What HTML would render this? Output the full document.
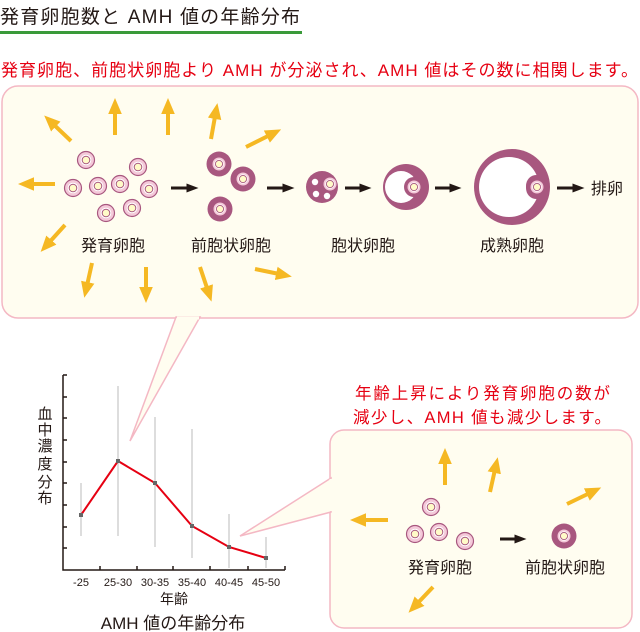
<!DOCTYPE html>
<html><head><meta charset="utf-8"><style>
body{margin:0;background:#fff}
svg{display:block}
text{font-family:"Liberation Sans","Noto Sans CJK JP",sans-serif}
</style></head><body>
<svg width="640" height="632" viewBox="0 0 640 632" xmlns="http://www.w3.org/2000/svg">
<defs>
<marker id="ya" markerWidth="4" markerHeight="4" refX="2" refY="2" orient="auto" markerUnits="strokeWidth"><path d="M0,0.3 L4,2 L0,3.7 Z" fill="#f5b823"/></marker>
<marker id="ba" markerWidth="4" markerHeight="4" refX="1.5" refY="2" orient="auto" markerUnits="strokeWidth"><path d="M0,0.5 L4,2 L0,3.5 Z" fill="#231815"/></marker>
<g id="sf"><circle r="8.5" fill="#f4c9d9" stroke="#a8577f" stroke-width="1.2"/><circle r="5.3" fill="#fff"/><circle r="3.8" fill="#fffbc8" stroke="#a8577f" stroke-width="1"/></g>
<g id="ff"><circle r="6.5" fill="#f4c9d9"/><circle r="4.8" fill="#fff"/><circle r="3.6" fill="#fffbc8" stroke="#a8577f" stroke-width="0.9"/></g>
<g id="pf"><circle r="12.5" fill="#a8577f"/><use href="#ff"/></g>
</defs>
<text x="0" y="23" font-size="19" textLength="300" fill="#231815">発育卵胞数と AMH 値の年齢分布</text>
<rect x="0" y="31" width="302" height="3" fill="#3a9a3a"/>
<text x="1" y="76" font-size="17" textLength="637" fill="#e60012">発育卵胞、前胞状卵胞より AMH が分泌され、AMH 値はその数に相関します。</text>

<rect x="2" y="86" width="636" height="232" rx="16" fill="#fffdf0" stroke="#f4b8c4" stroke-width="1.5"/>
<polygon points="176,317 130,441 200,317" fill="#fffdf0" stroke="#f4b8c4" stroke-width="1.5"/>
<line x1="177" y1="318" x2="199" y2="318" stroke="#fffdf0" stroke-width="3"/>

<g stroke="#f5b823" stroke-width="4" marker-end="url(#ya)" fill="none">
<line x1="71" y1="141" x2="50" y2="121"/>
<line x1="115" y1="135" x2="115" y2="106"/>
<line x1="168" y1="135" x2="168" y2="106"/>
<line x1="211" y1="139" x2="216" y2="111"/>
<line x1="246" y1="147" x2="274" y2="133"/>
<line x1="55" y1="184" x2="26" y2="184"/>
<line x1="65" y1="225" x2="46" y2="246"/>
<line x1="92" y1="263" x2="86" y2="290"/>
<line x1="146" y1="267" x2="146" y2="295"/>
<line x1="200" y1="267" x2="209" y2="294"/>
<line x1="255" y1="269" x2="284" y2="275"/>
</g>
<use href="#sf" x="86" y="160"/><use href="#sf" x="138" y="167"/><use href="#sf" x="73" y="188"/><use href="#sf" x="98" y="186"/><use href="#sf" x="120" y="184"/><use href="#sf" x="149" y="189"/><use href="#sf" x="106" y="213"/><use href="#sf" x="132" y="208"/>
<use href="#pf" x="219" y="164"/><use href="#pf" x="243" y="179"/><use href="#pf" x="220" y="209"/>
<g stroke="#231815" stroke-width="3" marker-end="url(#ba)">
<line x1="171" y1="188" x2="191" y2="188"/>
<line x1="267" y1="188" x2="287" y2="188"/>
<line x1="345" y1="188" x2="364" y2="188"/>
<line x1="435" y1="188" x2="454" y2="188"/>
<line x1="557" y1="188" x2="577" y2="188"/>
</g>
<circle cx="322" cy="187" r="16" fill="#a8577f"/>
<circle cx="315" cy="182" r="3.2" fill="#fff"/><circle cx="316" cy="194" r="3.2" fill="#fff"/><circle cx="327" cy="196" r="3.2" fill="#fff"/>
<use href="#ff" x="330" y="184"/>
<circle cx="406" cy="187" r="23" fill="#a8577f"/>
<circle cx="401" cy="187" r="16" fill="#fff"/>
<circle cx="414" cy="187" r="10" fill="#a8577f"/>
<use href="#ff" x="414" y="187"/>
<circle cx="512" cy="187" r="38" fill="#a8577f"/>
<circle cx="509" cy="187" r="30" fill="#fff"/>
<rect x="526" y="175" width="20" height="24" rx="11" fill="#a8577f"/>
<use href="#ff" x="537" y="187"/>
<g font-size="16" fill="#231815" text-anchor="middle">
<text x="113" y="251">発育卵胞</text>
<text x="231" y="251">前胞状卵胞</text>
<text x="363" y="251">胞状卵胞</text>
<text x="512" y="251">成熟卵胞</text>
<text x="607" y="194">排卵</text>
</g>

<!-- chart -->
<g stroke="#231815" stroke-width="1.5" fill="none">
<polyline points="63,375 63,570 285,570"/>
<path d="M63,375h4M63,397h4M63,418h4M63,440h4M63,462h4M63,483h4M63,505h4M63,527h4M63,548h4M100,570v-4M137,570v-4M173,570v-4M210,570v-4M248,570v-4M285,570v-4"/>
</g>
<g stroke="#bbb" stroke-width="1">
<line x1="81" y1="483" x2="81" y2="536"/><line x1="118" y1="386" x2="118" y2="536"/><line x1="155" y1="417" x2="155" y2="547"/><line x1="192" y1="429" x2="192" y2="558"/><line x1="229" y1="514" x2="229" y2="568"/><line x1="266" y1="537" x2="266" y2="568"/>
</g>
<polyline points="81,515 118,461 155,483 192,526 229,547 266,558" fill="none" stroke="#e60012" stroke-width="2"/>
<g fill="#666"><rect x="79" y="513" width="4" height="4"/><rect x="116" y="459" width="4" height="4"/><rect x="153" y="481" width="4" height="4"/><rect x="190" y="524" width="4" height="4"/><rect x="227" y="545" width="4" height="4"/><rect x="264" y="556" width="4" height="4"/></g>
<g font-size="15" fill="#231815" text-anchor="middle">
<text x="45" y="419">血</text><text x="45" y="435">中</text><text x="45" y="451">濃</text><text x="45" y="469">度</text><text x="45" y="487">分</text><text x="45" y="503">布</text>
</g>
<g font-size="11" fill="#231815" text-anchor="middle">
<text x="81" y="586">-25</text><text x="118" y="586">25-30</text><text x="155" y="586">30-35</text><text x="192" y="586">35-40</text><text x="229" y="586">40-45</text><text x="266" y="586">45-50</text>
</g>
<text x="174" y="604" font-size="14" fill="#231815" text-anchor="middle">年齢</text>
<text x="173" y="629" font-size="17" fill="#231815" text-anchor="middle">AMH 値の年齢分布</text>

<!-- bottom box -->
<text x="355" y="399" font-size="16.5" fill="#e60012" textLength="255">年齢上昇により発育卵胞の数が</text>
<text x="353" y="423" font-size="16.5" fill="#e60012" textLength="258">減少し、AMH 値も減少します。</text>
<rect x="330" y="430" width="302" height="198" rx="14" fill="#fffdf0" stroke="#f4b8c4" stroke-width="1.5"/>
<polygon points="331,478 240,536 331,512" fill="#fffdf0" stroke="#f4b8c4" stroke-width="1.5"/>
<line x1="331" y1="479" x2="331" y2="511" stroke="#fffdf0" stroke-width="3"/>
<g stroke="#f5b823" stroke-width="4" marker-end="url(#ya)" fill="none">
<line x1="445" y1="485" x2="445" y2="456"/>
<line x1="490" y1="492" x2="496" y2="465"/>
<line x1="567" y1="504" x2="594" y2="491"/>
<line x1="388" y1="520" x2="358" y2="520"/>
<line x1="433" y1="587" x2="414" y2="607"/>
</g>
<use href="#sf" x="431" y="507"/><use href="#sf" x="415" y="534"/><use href="#sf" x="439" y="532"/><use href="#sf" x="465" y="541"/>
<use href="#pf" x="564" y="536"/>
<line x1="500" y1="539" x2="519" y2="539" stroke="#231815" stroke-width="3" marker-end="url(#ba)"/>
<g font-size="16" fill="#231815" text-anchor="middle">
<text x="440" y="573">発育卵胞</text>
<text x="565" y="573">前胞状卵胞</text>
</g>
</svg>
</body></html>
